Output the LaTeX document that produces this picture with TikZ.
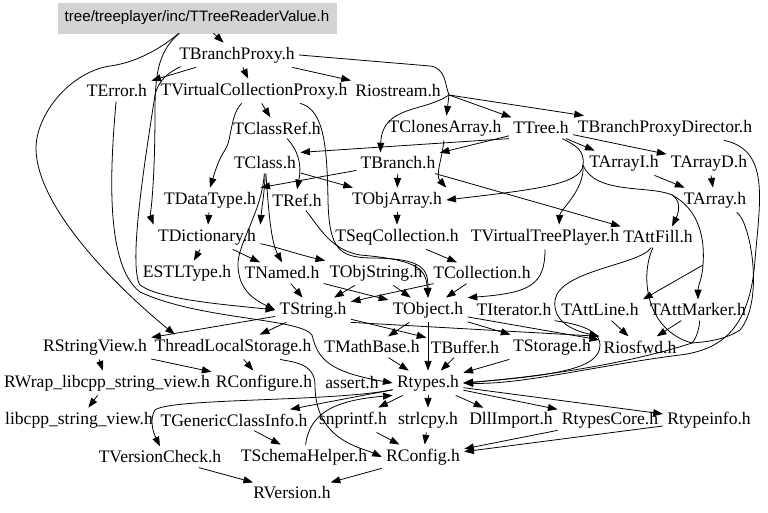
\documentclass[tikz,border=0pt]{standalone}
\usepackage{fontspec}
\setmainfont{Liberation Serif}
\newfontfamily\hdrfont{Liberation Serif}
\newfontfamily\rootfont{Liberation Sans}
\usetikzlibrary{arrows.meta}
\definecolor{rootF}{HTML}{D3D3D3}

\begin{document}
\begin{tikzpicture}[
    x=0.02cm, y=-0.02cm,
    >={Triangle[length=5.5pt,width=4pt]},
    hdr/.style={inner sep=1.5pt, outer sep=1pt, font=\hdrfont\fontsize{10}{12}\selectfont},
    rootbox/.style={fill=rootF, draw=rootF, minimum width=5.56cm, minimum height=0.6cm,
                    inner sep=0pt, font=\rootfont\fontsize{8.6}{10}\selectfont},
    dep/.style={->, line width=0.45pt},
    via/.style={line width=0.45pt},
]
\useasboundingbox (0,0) rectangle (768,513);

% =====================================================================
%  headers
% =====================================================================
\node[rootbox] (root) at (197,18) {tree/treeplayer/inc/TTreeReaderValue.h};

\foreach \n/\x/\y/\t in {
    tbp/237/55/TBranchProxy.h,
    terr/117/91/TError.h, tvcp/254/91/TVirtualCollectionProxy.h, riostr/398/91/Riostream.h,
    tclref/277/128/TClassRef.h, tclones/445/128/TClonesArray.h, ttree/541/128/TTree.h,
    tbpd/665/128/TBranchProxyDirector.h,
    tclass/265/163/TClass.h, tbranch/398/163/TBranch.h, tarri/624/163/TArrayI.h,
    tarrd/709/163/TArrayD.h,
    tdtype/210/200/TDataType.h, tref/297/200/TRef.h, tobjarr/397/200/TObjArray.h,
    tarray/715/200/TArray.h,
    tdict/207/237/TDictionary.h, tseqc/397/237/TSeqCollection.h,
    tvtp/545/237/TVirtualTreePlayer.h, tattf/658/237/TAttFill.h,
    estl/187/273/ESTLType.h, tnamed/282/273/TNamed.h, tobjstr/376/273/TObjString.h,
    tcoll/482/273/TCollection.h,
    tstr/313/310/TString.h, tobj/428/310/TObject.h, titer/514/310/TIterator.h,
    tattl/600/310/TAttLine.h, tattm/698/310/TAttMarker.h,
    rsv/95/347/RStringView.h, tls/233/347/ThreadLocalStorage.h, tmath/372/347/TMathBase.h,
    tbuf/465/347/TBuffer.h, tstor/552/347/TStorage.h, riosfwd/640/347/Riosfwd.h,
    rwrap/107/383/RWrap\_libcpp\_string\_view.h, rconfu/264/383/RConfigure.h,
    assert/352/383/assert.h, rtypes/428/383/Rtypes.h,
    libcpp/79/420/libcpp\_string\_view.h, tgci/234/420/TGenericClassInfo.h,
    snpr/353/420/snprintf.h, strl/428/420/strlcpy.h, dlli/511/420/DllImport.h,
    rtcore/610/420/RtypesCore.h, rtinfo/709/420/Rtypeinfo.h,
    tvchk/160/457/TVersionCheck.h, tschema/304/457/TSchemaHelper.h, rconf/423/457/RConfig.h,
    rver/292/493/RVersion.h}
   \node[hdr] (\n) at (\x,\y) {\t};

% =====================================================================
%  plain includes
% =====================================================================
\foreach \a/\b in {root/tbp, tbp/terr, tbp/tvcp, tbp/riostr, tvcp/tclref,
    ttree/tbranch, ttree/tarri, ttree/tarrd, tclass/tobjarr, tbranch/tobjarr,
    tbranch/tattf, tdtype/tdict, tobjarr/tseqc, tarri/tarray, tarrd/tarray,
    tdict/estl, tdict/tnamed, tseqc/tcoll, tnamed/tstr, tnamed/tobj,
    tobjstr/tstr, tobjstr/tobj, tcoll/tobj, tcoll/tstr, tstr/rsv, tstr/tls,
    tstr/tbuf, tobj/tmath, tobj/rtypes, tobj/tstor, tobj/riosfwd,
    tattl/riosfwd, tattm/riosfwd, tmath/rtypes, tbuf/rtypes, tstor/rtypes,
    rsv/rwrap, rsv/rconfu, tls/rconfu, rwrap/libcpp, rtypes/snpr, rtypes/strl,
    rtypes/dlli, rtypes/rtcore, rtypes/rtinfo, rtypes/tgci, tgci/tschema,
    snpr/rconf, strl/rconf, rtcore/rconf, rtinfo/rconf, tvchk/rver, rconf/rver}
   \draw[dep] (\a) -- (\b);

\draw[dep] (ttree.south west) -- (tclass.north east);
\draw[dep] (tbranch) -- (tdtype.north east);
\draw[dep] (tstr.south east) -- (riosfwd.north west);

% =====================================================================
%  routed includes
% =====================================================================
% from the root file
\draw[dep] (root) .. controls (160,50) and (155,70) .. (155,110)
           .. controls (155,190) and (150,215) .. (tdict.north west);
\draw[dep] (root) .. controls (165,45) and (140,62) .. (110,66)
           .. controls (70,72) and (35,115) .. (36,150)
           .. controls (38,210) and (120,290) .. ([xshift=14pt]tls.north west);

% TBranchProxy fans out over Riostream
\coordinate (jFan) at (449,95);
\draw[via] (tbp.east) -- (430,66) .. controls (446,68) and (445,85) .. (jFan);
\foreach \t in {tclones,ttree,tbpd} \draw[dep] (jFan) -- (\t);
\draw[dep] (jFan) .. controls (425,112) and (382,105) .. ([xshift=-10pt]tbranch.north);
\draw[dep] (tbp) .. controls (185,66) and (160,72) .. (155,95)
           .. controls (145,160) and (128,265) .. (140,285)
           .. controls (160,300) and (230,305) .. (tstr.west);

% TError down the left side
\draw[dep] (terr) .. controls (110,170) and (105,265) .. (140,292)
           .. controls (200,320) and (300,318) .. (312,335)
           .. controls (318,360) and (330,372) .. (rtypes.west);

% TVirtualCollectionProxy
\draw[dep] (tvcp) .. controls (230,115) and (232,140) .. (225,150)
           .. controls (218,160) and (214,175) .. (tdtype.north);
\draw[dep] (tvcp) .. controls (325,110) and (327,150) .. (328,200)
           .. controls (329,250) and (340,257) .. (370,258)
           .. controls (425,258) and (428,270) .. (tobj.north);

\draw[dep] (tclref) .. controls (298,150) and (302,165) .. (tref.north);
\draw[dep] (tclones) .. controls (442,160) and (435,175) .. (tobjarr.north east);

% TTree
\coordinate (jTree) at (583,165);
\coordinate (jFill) at (672,195);
\coordinate (jMark) at (703,265);
\draw[via] (ttree) .. controls (575,145) and (585,150) .. (jTree);
\draw[dep] (jTree) .. controls (582,185) and (530,190) .. (tobjarr.east);
\draw[dep] (jTree) .. controls (585,190) and (560,210) .. ([xshift=8pt]tvtp.north);
\draw[dep] (jTree) .. controls (595,195) and (650,185) .. (jFill)
           .. controls (680,200) and (680,210) .. ([xshift=8pt]tattf.north);
\draw[dep] (jFill) .. controls (700,210) and (705,240) .. (jMark)
           .. controls (702,280) and (698,285) .. (tattm.north);
\draw[dep] (jMark) -- (tattl.north east);

% TClass
\draw[dep] (tclass) .. controls (265,190) and (262,205) .. (tdict.north east);
\draw[dep] (tclass) .. controls (268,200) and (270,240) .. (tnamed.north);
\draw[dep] (tclass) .. controls (262,210) and (240,240) .. (238,262)
           .. controls (237,290) and (255,300) .. (tstr.west);

\draw[dep] (tref) .. controls (318,225) and (330,250) .. (360,255)
           .. controls (420,260) and (426,270) .. (tobj.north);
\draw[dep] (tdict) .. controls (270,245) and (300,255) .. (tobjstr.north west);
\draw[dep] (tvtp) .. controls (545,285) and (530,293) .. (tobj.north east);
\draw[dep] (tattf) .. controls (640,265) and (560,270) .. (555,300)
           .. controls (552,325) and (580,332) .. (riosfwd.north west);

% right-hand side into Rtypes
\coordinate (jRt) at (692,343);
\draw[via] (tarray) .. controls (750,220) and (765,300) .. (740,330)
           .. controls (725,340) and (705,342) .. (jRt);
\draw[via] (tattf) .. controls (640,275) and (645,330) .. (jRt);
\draw[via] (tattm) .. controls (700,325) and (697,338) .. (jRt);
\draw[dep] (jRt) .. controls (640,360) and (560,375) .. (rtypes.east);
\draw[dep] (tbpd) .. controls (770,150) and (760,200) .. (755,260)
           .. controls (750,330) and (720,350) .. (680,355)
           .. controls (600,365) and (520,385) .. (rtypes.east);
\draw[dep] (titer) .. controls (560,322) and (600,325) .. (600,345)
           .. controls (600,368) and (560,375) .. (rtypes.east);

% lower part
\draw[dep] (tls) .. controls (290,362) and (315,362) .. (315,385)
           .. controls (315,440) and (360,447) .. (rconf.west);
\draw[dep] (rtypes) .. controls (330,402) and (170,398) .. (155,410)
           .. controls (150,418) and (152,430) .. (tvchk.north);
\draw[dep] (tschema) .. controls (310,410) and (340,400) .. (rtypes.south west);

\end{tikzpicture}
\end{document}
